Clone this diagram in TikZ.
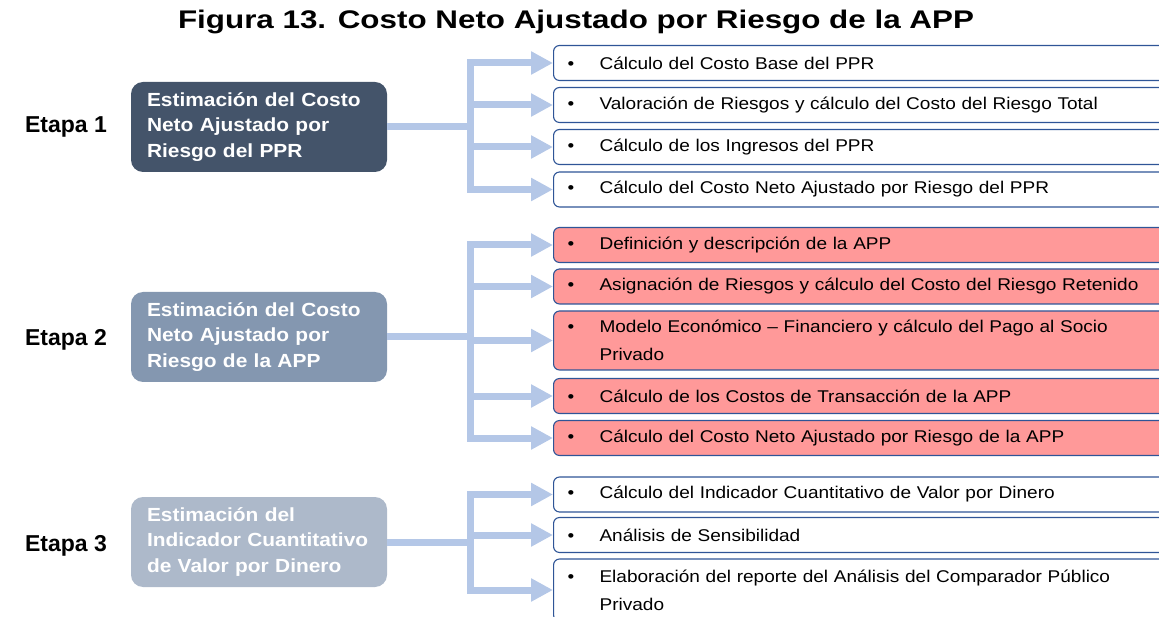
\documentclass[tikz,border=0pt]{standalone}
\usepackage{fontspec}
\setmainfont{Liberation Sans}
\newfontfamily\itemfont[FakeStretch=1.12, Ligatures=TeX]{Liberation Sans}
\newfontfamily\stagefont[FakeStretch=1.1, Ligatures=TeX]{Liberation Sans}
\newfontfamily\titlefont[FakeStretch=1.23, Ligatures=TeX]{Liberation Sans}
\usetikzlibrary{arrows.meta}
\definecolor{stageA}{HTML}{44546A}
\definecolor{stageB}{HTML}{8497B0}
\definecolor{stageC}{HTML}{ADB9CA}
\definecolor{flowblue}{HTML}{B4C7E7}
\definecolor{itemline}{HTML}{2F5597}
\definecolor{itempink}{HTML}{FF9999}
\newcommand{\bul}[1]{\makebox[32pt][l]{\textbullet}\parbox[t]{560pt}{\baselineskip=28pt #1}}
\newcommand{\tightspace}{\spaceskip=.16em plus .05em\relax}

\begin{document}
\begin{tikzpicture}[x=1pt, y=-1pt,
  stagebox/.style={rectangle, rounded corners=12pt, minimum width=256pt, minimum height=90pt,
    text width=224pt, align=left, inner sep=0pt, text=white,
    font=\stagefont\fontsize{19}{25.5}\selectfont\bfseries\tightspace},
  stagelabel/.style={font=\fontsize{23}{26}\selectfont\bfseries},
  itembox/.style={rectangle, rounded corners=6pt, draw=itemline, line width=1.1pt, fill=white,
    minimum width=622pt, minimum height=35pt, text width=594pt, align=left, inner sep=0pt,
    anchor=west, font=\itemfont\fontsize{17}{28}\selectfont},
  pinkbox/.style={itembox, fill=itempink},
  flow/.style={draw=flowblue, line width=7pt, -{Triangle[length=22pt,width=22pt]}}]
\useasboundingbox (0,0) rectangle (1159,617);
\clip (0,0) rectangle (1159,617);

\node[font=\titlefont\fontsize{25.5}{28}\selectfont\bfseries] (title) at (576,22) {Figura 13. Costo Neto Ajustado por Riesgo de la APP};

% etapas
\node[stagelabel] (e1) at (66,127) {Etapa 1};
\node[stagelabel] (e2) at (66,340) {Etapa 2};
\node[stagelabel] (e3) at (66,546) {Etapa 3};

\node[stagebox, fill=stageA] (s1) at (259,127) {Estimación del Costo\\ Neto Ajustado por\\ Riesgo del PPR};
\node[stagebox, fill=stageB] (s2) at (259,337) {Estimación del Costo\\ Neto Ajustado por\\ Riesgo de la APP};
\node[stagebox, fill=stageC] (s3) at (259,542) {Estimación del\\ Indicador Cuantitativo\\ de Valor por Dinero};

% actividades
\node[itembox] (i11) at (553,63) {\bul{Cálculo del Costo Base del PPR}};
\node[itembox] (i12) at (553,105) {\bul{Valoración de Riesgos y cálculo del Costo del Riesgo Total}};
\node[itembox] (i13) at (553,147) {\bul{Cálculo de los Ingresos del PPR}};
\node[itembox] (i14) at (553,189.5) {\bul{Cálculo del Costo Neto Ajustado por Riesgo del PPR}};

\node[pinkbox] (i21) at (553,245) {\bul{Definición y descripción de la APP}};
\node[pinkbox] (i22) at (553,286.5) {\bul{Asignación de Riesgos y cálculo del Costo del Riesgo Retenido}};
\node[pinkbox, minimum height=59pt] (i23) at (553,340.5) {\bul{Modelo Económico – Financiero y cálculo del Pago al Socio\\ Privado}};
\node[pinkbox] (i24) at (553,396) {\bul{Cálculo de los Costos de Transacción de la APP}};
\node[pinkbox] (i25) at (553,438) {\bul{Cálculo del Costo Neto Ajustado por Riesgo de la APP}};

\node[itembox] (i31) at (553,494.5) {\bul{Cálculo del Indicador Cuantitativo de Valor por Dinero}};
\node[itembox] (i32) at (553,535) {\bul{Análisis de Sensibilidad}};
\node[itembox, minimum height=62pt] (i33) at (553,590) {\bul{Elaboración del reporte del Análisis del Comparador Público\\ Privado}};

% flechas
\coordinate (bus1) at (470,127);
\coordinate (bus2) at (470,337);
\coordinate (bus3) at (470,542);
\foreach \i in {i11,i12,i13,i14}
  \draw[flow] (s1.east) -- (bus1) |- (\i.west);
\foreach \i in {i21,i22,i23,i24,i25}
  \draw[flow] (s2.east) -- (bus2) |- (\i.west);
\foreach \i in {i31,i32,i33}
  \draw[flow] (s3.east) -- (bus3) |- (\i.west);
\end{tikzpicture}
\end{document}
